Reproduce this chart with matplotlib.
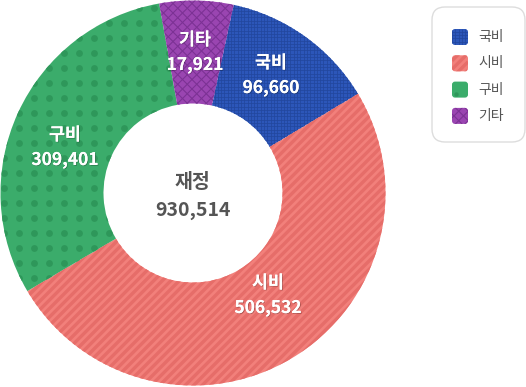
import numpy as np
import matplotlib
matplotlib.use("Agg")
import matplotlib.pyplot as plt
from matplotlib.collections import LineCollection
from matplotlib.patches import FancyBboxPatch
import matplotlib.patheffects as pe

plt.rcParams['font.family'] = ['Noto Sans CJK KR', 'DejaVu Sans']

# data
labels = ['국비', '시비', '구비', '기타']
values = [96660, 506532, 309401, 17921]
# slice sizes as drawn in the chart (percent)
shares = [13.0, 50.1, 30.7, 6.2]
colors = ['#2c56b9', '#f2807b', '#3bac6b', '#9a45b1']
tex_colors = ['#22479e', '#e66d69', '#2e975a', '#7c3294']
textures = ['grid', 'stripe', 'dots', 'cross']
center_title = '재정'

W, H = 526, 387
fig = plt.figure(figsize=(W / 100, H / 100), dpi=100)
ax = fig.add_axes([0, 0, 1, 1])

cx, cy = 193, 194
R, hole = 192.5, 89.5


def texture(patch, kind, color, x0, x1, y0, y1, dot=24):
    segs = []
    if kind == 'grid':
        step = 3.3
        for x in np.arange(x0, x1, step):
            segs.append([(x, y0), (x, y1)])
        for y in np.arange(y0, y1, step):
            segs.append([(x0, y), (x1, y)])
        lw = 0.55
    elif kind == 'stripe':
        step = 8.5
        span = (x1 - x0) + (y1 - y0)
        for c in np.arange(-span, span, step):
            segs.append([(x0, y0 + c), (x1, y0 + c + (x1 - x0))])
        lw = 2.4
    elif kind == 'cross':
        step = 9.5
        span = (x1 - x0) + (y1 - y0)
        for c in np.arange(-span, span, step):
            segs.append([(x0, y0 + c), (x1, y0 + c + (x1 - x0))])
            segs.append([(x0, y1 - c), (x1, y1 - c - (x1 - x0))])
        lw = 0.8
    if kind == 'dots':
        step = 15
        gx, gy = np.meshgrid(np.arange(x0 + 4, x1, step), np.arange(y0 + 4, y1, step))
        sc = ax.scatter(gx.ravel(), gy.ravel(), s=dot, color=color, linewidths=0, zorder=3)
        sc.set_clip_path(patch)
        return
    lc = LineCollection(segs, colors=color, linewidths=lw, zorder=3)
    ax.add_collection(lc)
    lc.set_clip_path(patch)


wedges, _ = ax.pie(shares, colors=colors, startangle=77.8, counterclock=False,
                   radius=R, center=(cx, cy),
                   wedgeprops=dict(width=R - hole, linewidth=0))
for w, kind, tc in zip(wedges, textures, tex_colors):
    texture(w, kind, tc, 0, 400, 0, H)

# slice labels
label_pos = [(271, 63), (268, 283), (65, 135), (195, 40)]
shadow = [pe.withSimplePatchShadow(offset=(0.6, -0.6), shadow_rgbFace='black', alpha=0.25), pe.Normal()]
for lab, val, (x, y) in zip(labels, values, label_pos):
    ax.text(x, H - y, lab, ha='center', va='center', color='white', fontsize=12.5,
            fontweight='bold', zorder=5, path_effects=shadow)
    ax.text(x, H - y - 25, f'{val:,}', ha='center', va='center', color='white',
            fontsize=12.5, fontweight='bold', zorder=5, path_effects=shadow)

ax.text(cx - 1, H - 182, center_title, ha='center', va='center', color='#555555',
        fontsize=14, fontweight='bold')
ax.text(cx, H - 210, f'{sum(values):,}', ha='center', va='center', color='#555555',
        fontsize=14, fontweight='bold')

# legend
box = FancyBboxPatch((432, H - 142), 93, 135, boxstyle='round,pad=0,rounding_size=13',
                     facecolor='white', edgecolor='#dddddd', linewidth=1.0, zorder=2)
ax.add_patch(box)
for i, (lab, col, kind, tc) in enumerate(zip(labels, colors, textures, tex_colors)):
    yc = H - (37 + i * 26.3)
    sq = FancyBboxPatch((452, yc - 8), 16, 16, boxstyle='round,pad=0,rounding_size=3',
                        facecolor=col, edgecolor='none', zorder=3)
    ax.add_patch(sq)
    texture(sq, kind, tc, 452, 468, yc - 8, yc + 8, dot=10)
    ax.text(478, yc, lab, ha='left', va='center', color='#555555', fontsize=10, zorder=4)

ax.set_xlim(0, W)
ax.set_ylim(0, H)
ax.set_aspect('auto')
ax.axis('off')

fig.savefig('out.png', dpi=100)
